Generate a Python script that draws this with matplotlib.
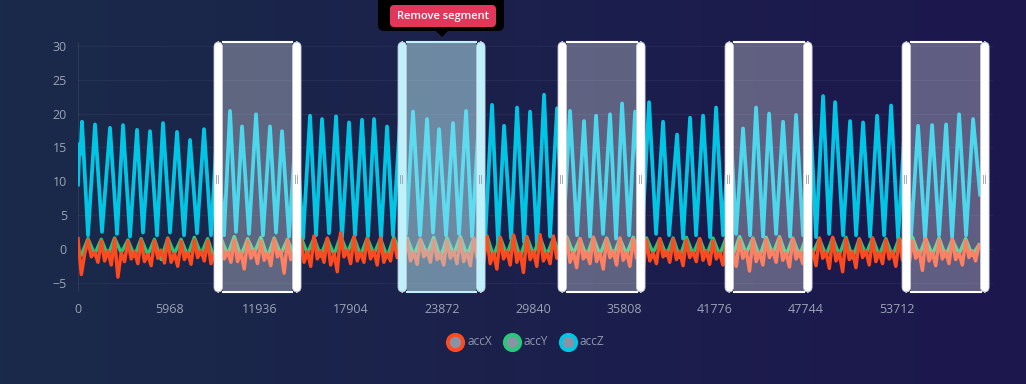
import matplotlib.pyplot as plt
import numpy as np
from matplotlib.patches import FancyBboxPatch, Polygon
from matplotlib.lines import Line2D

plt.rcParams["font.family"] = ["Open Sans", "DejaVu Sans"]

# ---- data ----
series_names = ["accX", "accY", "accZ"]
series_colors = ["#ff4a1f", "#27c87a", "#00c6e6"]

x_ticks = [0, 5968, 11936, 17904, 23872, 29840, 35808, 41776, 47744, 53712]
y_ticks = [-5, 0, 5, 10, 15, 20, 25, 30]

# accZ: turning points (sample index, value)
z_time = [0, 98, 160, 262,
          656, 1115, 1574, 2099, 2558, 2951, 3410, 3869, 4263, 4722, 5181, 5574,
          6033, 6492, 6951, 7345, 7804, 8263, 8722, 9116, 9575, 9968, 10362, 10755,
          11214, 11673, 12132, 12591, 12985, 13378, 13837, 14296, 14755, 15215, 15608,
          16002, 16461, 16920, 17313, 17772, 18166, 18625, 19018, 19412, 19871, 20264,
          20658, 21117, 21510, 21969, 22428, 22887, 23281, 23674, 24133, 24592, 24986,
          25445, 25839, 26298, 26691, 27150, 27544, 27937, 28396, 28790, 29249, 29642,
          30101, 30560, 30954, 31413, 31806, 32265, 32724, 33183, 33577, 33970, 34429,
          34888, 35282, 35676, 36135, 36528, 36987, 37446, 37905, 38364, 38758, 39282,
          39676, 40135, 40528, 40987, 41447, 41840, 42299, 42758, 43152, 43611, 44070,
          44463, 44922, 45316, 45775, 46234, 46693, 47086, 47546, 48005, 48398, 48857,
          49251, 49644, 50169, 50628, 51021, 51480, 51940, 52399, 52858, 53317, 53776,
          54235, 54628, 55087, 55546, 56005, 56464, 56923, 57317, 57776, 58235, 58694,
          59153]
z_vals = [9.5, 15.5, 14.0, 18.8,
          2.0, 18.4, 2.5, 17.9, 2.2, 18.3, 1.8, 17.6, 2.4, 17.4, 2.0, 18.6,
          2.4, 17.3, 2.0, 16.1, 2.3, 17.7, 2.0, 17.5, 2.0, 20.4, 2.5, 18.1,
          2.2, 19.9, 2.0, 18.1, 2.4, 17.4, 1.8, 18.0, 1.5, 19.7, 2.0,
          19.2, 2.3, 19.6, 1.7, 18.7, 2.0, 19.1, 1.8, 19.2, 1.5, 18.1,
          2.0, 19.0, 2.2, 20.3, 2.0, 19.2, 2.4, 17.7, 2.0, 18.6, 2.2,
          20.4, 1.8, 19.5, 1.2, 21.3, 0.8, 18.2, 1.5, 20.9, 1.0, 20.3,
          0.5, 22.8, 1.8, 20.8, 1.5, 20.4, 2.0, 18.9, 1.8, 19.7, 2.2,
          19.9, 1.5, 21.5, 2.0, 20.3, 1.8, 21.7, 2.2, 18.8, 2.0, 16.9,
          1.5, 19.4, 2.0, 19.7, 1.7, 20.9, 2.0, 19.5, 2.2, 17.8, 2.0,
          20.9, 1.8, 20.0, 2.2, 18.8, 1.8, 19.8, 2.0, 20.5, 1.7, 22.6,
          2.2, 21.7, 2.0, 18.9, 2.0, 18.7, 1.8, 19.7, 2.0, 21.2, 1.5,
          19.0, 2.0, 18.2, 1.5, 18.3, 2.0, 18.4, 1.7, 19.9, 2.0, 19.2,
          8.0]

# accX: one reading every 218 samples
acc_x = [1.5, -3.8, -0.8,
         1.3, -1.2, -0.5, -2.0, 1.2, -1.8, -0.3, -2.4, 1.4, -4.2, -0.6, -1.9,
         1.1, -1.5, -0.4, -2.2, 1.3, -1.9, -0.8, -2.5, 1.2, -1.4, -0.2, -2.1,
         1.5, -2.0, -0.7, -2.6, 1.1, -1.6, -0.5, -2.3, 1.3, -1.3, -0.3, -1.8,
         1.2, -2.2, -0.6, -2.4, 1.4, -1.5, -0.4, -2.0, 1.3, -1.9, -0.5, -3.0,
         1.2, -1.4, -0.2, -2.2, 1.1, -1.7, -0.6, -2.5, 1.4, -1.2, -0.3, -3.6,
         1.3, -1.6, -0.5, -2.2, 1.5, -2.0, -0.4, -2.6, 1.9, -1.5, -0.3, -2.0,
         1.6, -2.4, -0.7, -3.4, 2.4, -1.2, -0.2, -2.2, 1.8, -1.8, -0.5, -2.0,
         1.5, -1.5, -0.3, -2.4, 1.6, -2.0, -0.6, -1.8, 1.4, -1.3, -0.4, -2.1,
         1.3, -1.8, -0.5, -2.3, 1.4, -1.2, -0.2, -2.0, 1.3, -1.6, -0.6, -2.4,
         1.2, -1.4, -0.3, -2.2, 1.5, -1.9, -0.5, -2.5, 1.6, -1.3, -0.4, -2.0,
         1.8, -2.2, -0.6, -3.0, 1.7, -1.5, -0.3, -2.4, 2.0, -2.0, -0.5, -3.5,
         1.8, -1.6, -0.4, -2.6, 2.1, -1.8, -0.6, -2.2, 1.9, -1.4, -0.3, -2.5,
         1.6, -2.0, -0.5, -2.8, 1.5, -1.5, -0.4, -2.2, 1.7, -1.9, -0.6, -3.0,
         1.4, -1.3, -0.3, -2.4, 1.6, -1.7, -0.5, -2.6, 1.5, -1.4, -0.2, -3.2,
         1.3, -1.8, -0.6, -2.2, 1.5, -1.2, -0.3, -2.0, 1.4, -1.6, -0.4, -2.5,
         1.3, -1.3, -0.5, -1.9, 1.5, -1.7, -0.3, -2.3, 1.2, -1.5, -0.6, -2.4,
         1.4, -1.8, -0.4, -2.6, 1.3, -1.4, -0.3, -3.3, 1.5, -1.9, -0.5, -2.4,
         1.4, -1.3, -0.2, -2.0, 1.6, -1.7, -0.6, -2.7, 1.5, -1.5, -0.4, -2.2,
         1.8, -2.0, -0.3, -2.5, 1.6, -1.4, -0.5, -2.9, 1.7, -1.8, -0.6, -3.4,
         1.5, -1.6, -0.4, -2.8, 1.4, -1.3, -0.3, -2.4, 1.6, -1.9, -0.5, -2.2,
         1.3, -1.5, -0.4, -2.6, 1.4, -1.7, -0.6, -2.3, 1.2, -1.4, -0.3, -3.2,
         1.5, -1.8, -0.5, -2.5, 1.3, -1.5, -0.4, -2.2, 1.4, -1.6, -0.6, -2.4,
         1.2, -1.3, -0.3, -1.8, 0.5]

# accY: one reading every 436 samples, starting at sample 218
acc_y = [-0.9, 1.5, -0.8, 1.4, -1.0, 1.6, -0.6, 1.3, -1.1, 1.5, -0.9, 1.4, -1.6, 1.6, -0.7, 1.4, -1.0, 1.7, -0.8, 1.5,
         -1.5, 1.6, -0.9, 1.8, -1.1, 1.5, -0.6, 1.7, -1.2, 1.6, -0.8, 1.4, -1.0, 1.8, -0.7, 1.6, -1.1, 1.5, -0.9, 1.9,
         -0.6, 1.7, -1.0, 1.6, -0.8, 1.5, -1.2, 1.7, -0.7, 1.6, -1.0, 1.4, -0.9, 1.7, -1.4, 1.6, -0.8, 1.8, -1.0, 1.5,
         -0.7, 1.9, -1.1, 1.7, -0.9, 2.0, -1.3, 1.8, -0.8, 1.7, -1.0, 1.6, -1.1, 1.8, -0.7, 1.5, -1.2, 1.7, -0.9, 1.6,
         -1.0, 1.5, -0.8, 1.7, -1.1, 1.6, -0.6, 1.5, -1.0, 1.6, -1.3, 1.7, -0.8, 1.5, -1.0, 1.6, -0.9, 1.7, -1.0, 1.8,
         -0.7, 1.6, -1.2, 1.7, -0.8, 1.8, -1.0, 1.6, -1.1, 1.7, -0.7, 1.5, -1.0, 1.6, -0.9, 1.7, -1.4, 1.5, -0.8, 1.6,
         -1.0, 1.5, -1.1, 1.6, -0.7, 1.7, -1.0, 1.5, -0.9, 1.6, -1.1, 1.4, -0.8, 1.5, -1.0, 0.6]

# labelled segments (sample ranges), second one is selected
seg_start = [8919, 20986, 31478, 42430, 54038]
seg_end = [14624, 26691, 37184, 48136, 59743]
selected = 1

# ---- figure ----
W, H = 1026, 384
fig = plt.figure(figsize=(W / 100, H / 100), dpi=100)

# gradient background
bg = fig.add_axes([0, 0, 1, 1])
g = np.linspace(0, 1, 256)[None, :, None]
c_left = np.array([0x1a, 0x2a, 0x4a]) / 255
c_right = np.array([0x1d, 0x17, 0x4e]) / 255
bg.imshow(c_left * (1 - g) + c_right * g, aspect="auto", extent=[0, 1, 0, 1])
bg.axis("off")

ax = fig.add_axes([78 / W, 1 - 292 / H, 915 / W, 250 / H])
ax.set_facecolor("none")
ax.set_xlim(0, 60000)
ax.set_ylim(-6.4, 30.6)
for s in ax.spines.values():
    s.set_visible(False)
ax.set_xticks(x_ticks)
ax.set_yticks(y_ticks)
ax.tick_params(length=0, colors="#9aa3b5", labelsize=9, pad=8)
ax.grid(axis="y", color="white", alpha=0.05, lw=0.8)
ax.axvline(0, color="white", alpha=0.08, lw=0.8)

t_x = np.arange(len(acc_x)) * 218
t_y = 218 + np.arange(len(acc_y)) * 436
ax.plot(z_time, z_vals, color=series_colors[2], lw=2.7, zorder=2, solid_joinstyle="round")
ax.plot(t_y, acc_y, color=series_colors[1], lw=2.4, zorder=3, solid_joinstyle="round")
ax.plot(t_x, acc_x, color=series_colors[0], lw=2.5, zorder=4, solid_joinstyle="round")

# segments
ylo, yhi = ax.get_ylim()
hw = 560          # handle width in samples (~8.5 px)
rs = 330          # corner radius in samples
asp = 0.74 / rs   # keeps corners round (px per unit differs on x / y)
for i, (a, b) in enumerate(zip(seg_start, seg_end)):
    sel = i == selected
    edge = "#bff1fb" if sel else "white"
    ax.axvspan(a + hw, b - hw, color="#bef0fa" if sel else "white",
               alpha=0.5 if sel else 0.3, lw=0, zorder=5)
    ax.plot([a + hw, b - hw], [yhi, yhi], color=edge, lw=1.5, zorder=6, clip_on=False)
    ax.plot([a + hw, b - hw], [ylo, ylo], color=edge, lw=1.5, zorder=6, clip_on=False)
    for hx in (a, b - hw):
        ax.add_patch(FancyBboxPatch((hx, ylo), hw, yhi - ylo,
                                    boxstyle=f"round,pad=0,rounding_size={rs}",
                                    mutation_aspect=asp, fc=edge, ec="#c9cdd9",
                                    lw=0.6, zorder=6, clip_on=False))
        ax.text(hx + hw / 2, 10.3, "||", color="#8c93a6", fontsize=6.5,
                ha="center", va="center", zorder=7, family="DejaVu Sans")


def fx(px):
    return px / W


def fy(py):
    return 1 - py / H


# tooltip
fig.add_artist(FancyBboxPatch((fx(378), fy(31)), fx(504) - fx(378), fy(-6) - fy(31),
                              boxstyle="round,pad=0,rounding_size=0.006",
                              mutation_aspect=W / H, transform=fig.transFigure,
                              fc="black", ec="none", zorder=10))
fig.add_artist(Polygon([(fx(435), fy(30)), (fx(449), fy(30)), (fx(442), fy(37))],
                       closed=True, transform=fig.transFigure, fc="black", ec="none", zorder=10))
fig.add_artist(FancyBboxPatch((fx(390), fy(27)), fx(496) - fx(390), fy(5) - fy(27),
                              boxstyle="round,pad=0,rounding_size=0.004",
                              mutation_aspect=W / H, transform=fig.transFigure,
                              fc="#e2375b", ec="none", zorder=11))
fig.text(fx(443), fy(16), "Remove segment", color="white", fontsize=8,
         weight="semibold", ha="center", va="center", zorder=12)

# legend
leg_x = [455, 512, 568]
for name, col, lx in zip(series_names, series_colors, leg_x):
    fig.add_artist(Line2D([fx(lx)], [fy(341.5)], marker="o", ms=11, mfc="#8a93a6",
                          mec=col, mew=2.8, ls="none", transform=fig.transFigure))
    fig.text(fx(lx + 12), fy(341.5), name, color="#8f99ad", fontsize=8.5,
             ha="left", va="center")

fig.savefig("out.png", dpi=100)
